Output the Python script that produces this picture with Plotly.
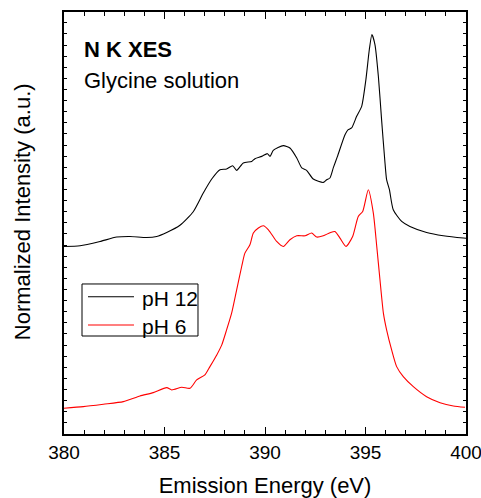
import plotly.graph_objects as go

# pH 12 (black) spectrum
energy_ph12 = [380.0, 380.8, 381.79, 382.62, 383.28, 384.11, 384.61, 385.11, 385.77, 386.43,
               386.93, 387.35, 387.76, 388.09, 388.39, 388.59, 388.92, 389.34, 389.5, 389.84,
               390.12, 390.25, 390.41, 390.91, 391.24, 391.58, 391.83, 392.07, 392.4, 392.9,
               393.07, 393.23, 393.4, 393.6, 393.98, 394.14, 394.31, 394.56, 394.81, 395.02,
               395.19, 395.32, 395.47, 395.64, 395.8, 395.97, 396.05, 396.19, 396.38, 396.8,
               397.21, 398.04, 398.87, 399.87, 400.0]
intensity_ph12 = [187.3, 188.0, 192.3, 196.7, 197.3, 196.3, 197.3, 201.3, 208.5, 222.0,
                  240.7, 254.7, 264.0, 264.7, 268.0, 263.3, 270.7, 272.3, 275.0, 277.3,
                  280.0, 277.3, 283.3, 288.0, 285.7, 275.7, 265.7, 263.3, 254.7, 251.3,
                  254.0, 255.7, 266.0, 277.0, 299.0, 304.0, 305.7, 317.3, 327.3, 354.0,
                  384.0, 399.0, 389.0, 357.3, 314.0, 270.7, 254.0, 244.0, 224.0, 212.3,
                  207.3, 201.3, 198.0, 195.7, 195.5]

# pH 6 (red) spectrum
energy_ph6 = [380.0, 380.96, 381.96, 382.95, 383.78, 384.44, 385.11, 385.36, 385.86, 386.27,
              386.6, 387.01, 387.26, 387.6, 387.85, 388.09, 388.34, 388.59, 388.84, 389.0,
              389.25, 389.42, 389.67, 389.92, 390.17, 390.58, 390.91, 391.24, 391.58, 392.0,
              392.32, 392.57, 392.9, 393.23, 393.48, 393.73, 394.03, 394.36, 394.64, 394.86,
              395.14, 395.39, 395.56, 395.72, 395.89, 396.05, 396.3, 396.55, 396.88, 397.38,
              398.04, 398.71, 399.37, 399.95]
intensity_ph6 = [25.7, 27.3, 29.7, 32.3, 38.0, 41.3, 46.3, 44.0, 46.7, 45.7,
                 54.0, 59.0, 67.3, 79.0, 89.0, 104.0, 120.7, 144.0, 167.3, 180.7,
                 189.0, 200.7, 205.7, 208.0, 204.0, 192.3, 187.3, 194.0, 198.0, 198.0,
                 200.7, 196.7, 198.0, 201.0, 202.3, 195.7, 187.3, 197.3, 217.3, 222.3,
                 244.0, 220.7, 187.3, 154.0, 120.7, 104.0, 84.0, 67.3, 57.3, 47.3,
                 37.3, 31.3, 28.0, 26.7]

series_names = ["pH 12", "pH 6"]
series_colors = ["black", "#ff0000"]
x_ticks = [380, 385, 390, 395, 400]

FONT = "Liberation Sans, Arial, sans-serif"

fig = go.Figure()
fig.add_trace(go.Scatter(x=energy_ph12, y=intensity_ph12, mode="lines", name=series_names[0],
                         line=dict(color=series_colors[0], width=1.1, shape="spline", smoothing=0.6),
                         showlegend=False))
fig.add_trace(go.Scatter(x=energy_ph6, y=intensity_ph6, mode="lines", name=series_names[1],
                         line=dict(color=series_colors[1], width=1.1, shape="spline", smoothing=0.6),
                         showlegend=False))

# legend box (drawn manually to match the original's compact frame)
leg_x0, leg_x1, leg_y0, leg_y1 = 0.0448, 0.3333, 0.2322, 0.3555
line_x0, line_x1 = 0.0597, 0.1741
item_y = [0.3254, 0.2583]
text_x = 0.189

shapes = [dict(type="rect", xref="paper", yref="paper", x0=leg_x0, x1=leg_x1, y0=leg_y0, y1=leg_y1,
               line=dict(color="black", width=1), fillcolor="white", layer="above")]
annotations = []
for name, col, yy in zip(series_names, series_colors, item_y):
    shapes.append(dict(type="line", xref="paper", yref="paper", x0=line_x0, x1=line_x1, y0=yy, y1=yy,
                       line=dict(color=col, width=1.1), layer="above"))
    annotations.append(dict(text=name, xref="paper", yref="paper", x=text_x, y=yy - 0.004,
                            xanchor="left", yanchor="middle", showarrow=False,
                            font=dict(size=21, family=FONT)))

annotations += [
    dict(text="Normalized Intensity (a.u.)", textangle=-90, xref="paper", yref="paper",
         x=-0.1045, y=0.528, xanchor="center", yanchor="middle", showarrow=False,
         font=dict(size=22, family=FONT)),
    dict(text="<b>N K XES</b>", xref="paper", yref="paper", x=0.045, y=0.912,
         xanchor="left", yanchor="middle", showarrow=False, font=dict(size=22, family=FONT)),
    dict(text="Glycine solution", xref="paper", yref="paper", x=0.045, y=0.838,
         xanchor="left", yanchor="middle", showarrow=False, font=dict(size=22, family=FONT)),
]

fig.update_layout(
    width=481, height=498,
    margin=dict(l=64, r=15, t=12, b=64, autoexpand=False),
    paper_bgcolor="white", plot_bgcolor="white",
    font=dict(family=FONT, color="black", size=19),
    showlegend=False,
    xaxis=dict(range=[380, 400], tickvals=x_ticks, ticktext=[str(v) for v in x_ticks],
               ticks="inside", ticklen=7, tickwidth=1, tickcolor="black",
               showline=True, linecolor="black", linewidth=1.5, mirror="allticks",
               showgrid=False, zeroline=False, ticklabeloverflow="allow",
               ticklabelstandoff=0, automargin=False,
               minor=dict(dtick=1, ticks="inside", ticklen=4, tickcolor="black", showgrid=False),
               tickfont=dict(size=19),
               title=dict(text="Emission Energy (eV)", font=dict(size=22), standoff=20)),
    yaxis=dict(range=[0, 421.5], tick0=0, dtick=11.1, ticks="inside", ticklen=3,
               tickcolor="black", showticklabels=False, automargin=False,
               showline=True, linecolor="black", linewidth=1.5, mirror="allticks",
               showgrid=False, zeroline=False),
    shapes=shapes,
    annotations=annotations,
)

fig.write_html("out.html")
